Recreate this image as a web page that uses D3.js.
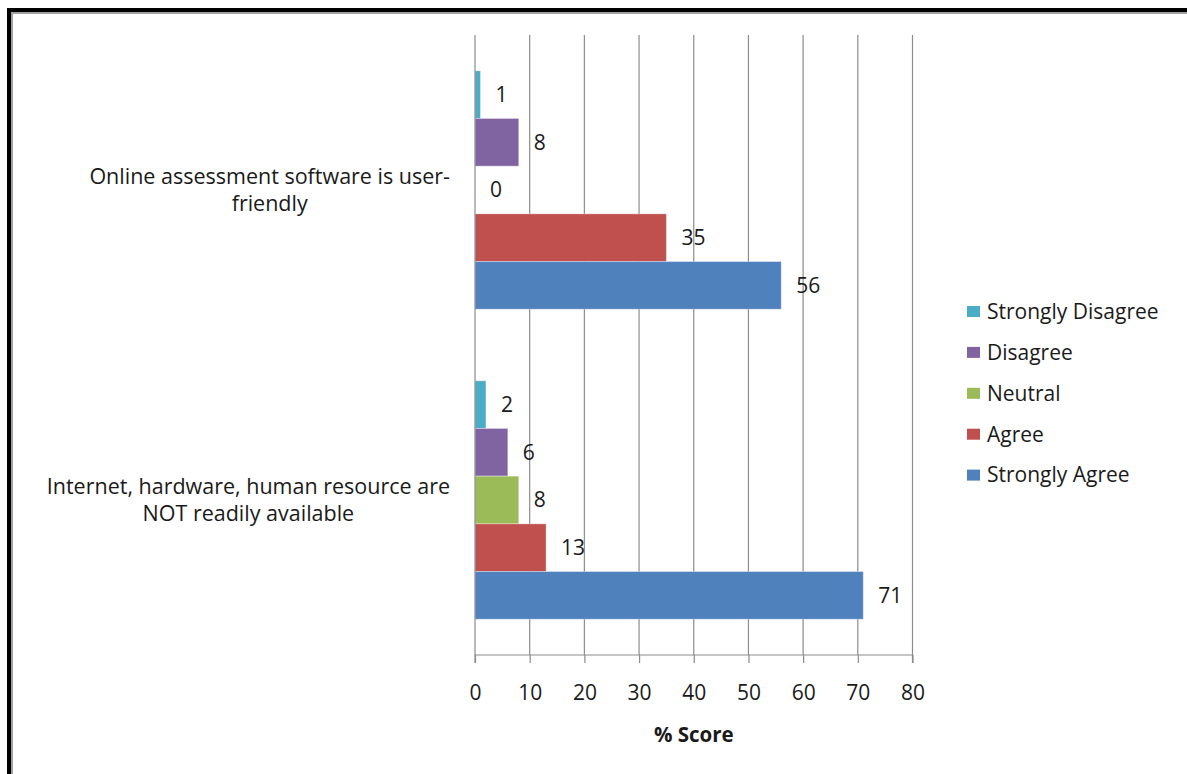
<!DOCTYPE html>
<html>
<head>
<meta charset="utf-8">
<script src="https://cdn.jsdelivr.net/npm/d3@7"></script>
<style>
  html, body { margin: 0; padding: 0; background: #fff; }
  svg text { font-family: "Open Sans", "Noto Sans", sans-serif; fill: #1a1a1a; }
</style>
</head>
<body>
<svg id="chart" width="1187" height="774"></svg>
<script>
// ---- data ----
const categories = [
  ["Online assessment software is user-", "friendly"],
  ["Internet, hardware, human resource are", "NOT readily available"]
];
const categoryKeys = ["Online", "Internet"];
const seriesNames = ["Strongly Disagree", "Disagree", "Neutral", "Agree", "Strongly Agree"];
const seriesColors = ["#4BACC6", "#8064A2", "#9BBB59", "#C0504D", "#4F81BD"];
const stronglyDisagree = [1, 2];
const disagree = [8, 6];
const neutral = [0, 8];
const agree = [35, 13];
const stronglyAgree = [56, 71];
const xTicks = [0, 10, 20, 30, 40, 50, 60, 70, 80];
const xTitle = "% Score";

const seriesValues = [stronglyDisagree, disagree, neutral, agree, stronglyAgree];
const FS = 21;

const svg = d3.select("#chart");

// frame
svg.append("rect").attr("x", 0).attr("y", 0).attr("width", 1187).attr("height", 774).attr("fill", "#fff");
svg.append("path").attr("d", "M9,774 V10 H1187").attr("fill", "none").attr("stroke", "#000").attr("stroke-width", 4);
svg.append("path").attr("d", "M12,774 V13 H1187").attr("fill", "none").attr("stroke", "#a0a0a0").attr("stroke-width", 2);

const plot = { left: 475, right: 912.5, top: 35, bottom: 655 };

const x = d3.scaleLinear().domain([0, 80]).range([plot.left, plot.right]);
const y = d3.scaleBand().domain(categoryKeys).range([plot.top, plot.bottom]);
// gap width 150%: band = 5w + 1.5w
const w = y.bandwidth() / 6.5;
const sub = d3.scaleBand().domain(seriesNames)
  .range([0.75 * w, 0.75 * w + 5 * w]).paddingInner(0).paddingOuter(0);

// gridlines
svg.append("g").selectAll("line").data(xTicks.slice(1)).join("line")
  .attr("x1", d => x(d)).attr("x2", d => x(d))
  .attr("y1", plot.top).attr("y2", plot.bottom)
  .attr("stroke", "#8c8c8c").attr("stroke-width", 1.2);

// bars
const gCat = svg.append("g").selectAll("g").data(categoryKeys).join("g")
  .attr("transform", d => `translate(0,${y(d)})`);

gCat.each(function(cat, ci) {
  const g = d3.select(this);
  seriesNames.forEach((s, si) => {
    const v = seriesValues[si][ci];
    if (v > 0) {
      g.append("rect")
        .attr("x", x(0)).attr("y", sub(s))
        .attr("width", x(v) - x(0)).attr("height", sub.bandwidth())
        .attr("fill", seriesColors[si])
        .attr("stroke", "rgba(255,255,255,0.35)").attr("stroke-width", 1);
    }
    g.append("text")
      .attr("x", x(v) + 15).attr("y", sub(s) + sub.bandwidth() / 2)
      .attr("dy", "0.35em").attr("font-size", FS)
      .text(v);
  });
});

// x axis
const xAxis = d3.axisBottom(x).tickValues(xTicks).tickSize(8).tickPadding(22);
const ax = svg.append("g").attr("transform", `translate(0,${plot.bottom})`).call(xAxis);
ax.select(".domain").attr("stroke", "#8c8c8c").attr("stroke-width", 1.2).attr("d", `M${plot.left},8V0H${plot.right}V8`);
ax.selectAll(".tick line").attr("stroke", "#8c8c8c").attr("stroke-width", 1.2);
ax.selectAll(".tick text").attr("font-size", FS).attr("font-family", "'Open Sans', sans-serif").attr("fill", "#1a1a1a");

// y axis line
svg.append("line").attr("x1", plot.left).attr("x2", plot.left).attr("y1", plot.top).attr("y2", plot.bottom)
  .attr("stroke", "#8c8c8c").attr("stroke-width", 1.2);

// x title
svg.append("text").attr("x", (plot.left + plot.right) / 2).attr("y", 742)
  .attr("text-anchor", "middle").attr("font-size", 20.5).attr("font-weight", "bold").text(xTitle);

// category labels
const labelRight = 450;
categoryKeys.forEach((k, i) => {
  const lines = categories[i];
  const t = svg.append("text").attr("font-size", 21.5).attr("text-anchor", "middle");
  const spans = lines.map(ln => t.append("tspan").text(ln));
  const maxW = d3.max(spans, s => s.node().getComputedTextLength());
  const cx = labelRight - maxW / 2;
  const cy = y(k) + y.bandwidth() / 2;
  const lh = 27;
  spans.forEach((s, li) => {
    s.attr("x", cx).attr("y", cy + (li - (lines.length - 1) / 2) * lh).attr("dy", "0.35em");
  });
});

// legend
const legendY0 = 311.5, legendStep = 40.9;
const lg = svg.append("g").selectAll("g").data(seriesNames).join("g")
  .attr("transform", (d, i) => `translate(967,${legendY0 + i * legendStep})`);
lg.append("rect").attr("x", 0).attr("y", -5.5).attr("width", 13).attr("height", 11)
  .attr("fill", (d, i) => seriesColors[i]);
lg.append("text").attr("x", 20).attr("y", 0).attr("dy", "0.35em").attr("font-size", FS).text(d => d);
</script>
</body>
</html>
